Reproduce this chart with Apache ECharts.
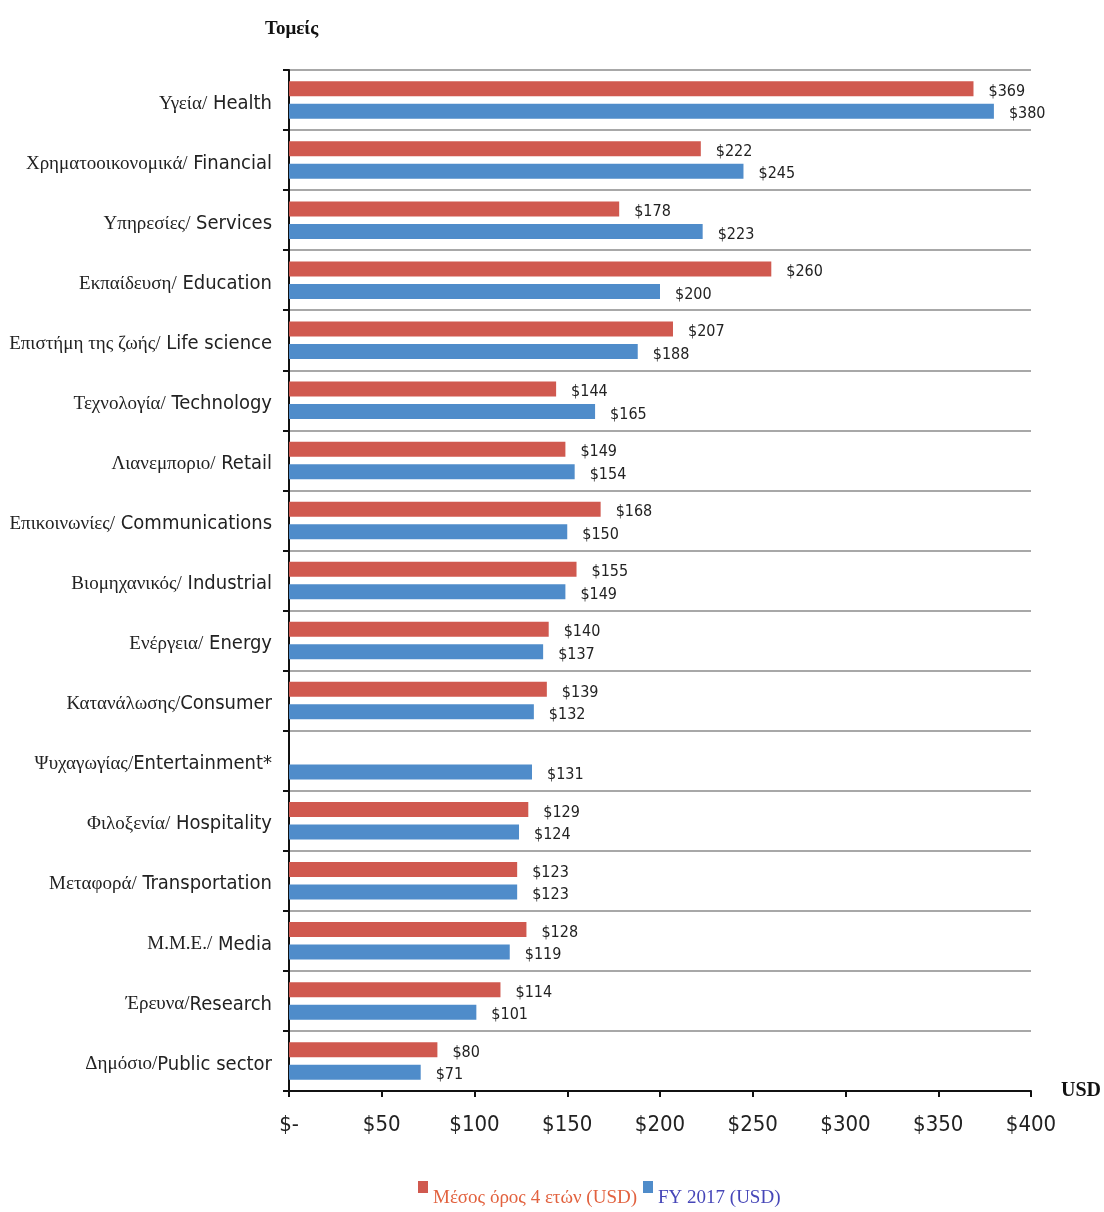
<!DOCTYPE html>
<html>
<head>
<meta charset="utf-8">
<script src="https://cdn.jsdelivr.net/npm/echarts@6/dist/echarts.min.js"></script>
<style>
  html, body { margin: 0; padding: 0; background: #ffffff; }
  #chart { width: 1104px; height: 1212px; }
</style>
</head>
<body>
<div id="chart"></div>
<script>
// Sectors (Greek / English)
const categories = [
  'Υγεία/ Health',
  'Χρηματοοικονομικά/ Financial',
  'Υπηρεσίες/ Services',
  'Εκπαίδευση/ Education',
  'Επιστήμη της ζωής/ Life science',
  'Τεχνολογία/ Technology',
  'Λιανεμποριο/ Retail',
  'Επικοινωνίες/ Communications',
  'Βιομηχανικός/ Industrial',
  'Ενέργεια/ Energy',
  'Κατανάλωσης/Consumer',
  'Ψυχαγωγίας/Entertainment*',
  'Φιλοξενία/ Hospitality',
  'Μεταφορά/ Transportation',
  'Μ.Μ.Ε./ Media',
  'Έρευνα/Research',
  'Δημόσιο/Public sector'
];

// Four-year average (USD); no value for Entertainment
const avg4Years = [369, 222, 178, 260, 207, 144, 149, 168, 155, 140, 139, null, 129, 123, 128, 114, 80];

// FY 2017 (USD)
const fy2017 = [380, 245, 223, 200, 188, 165, 154, 150, 149, 137, 132, 131, 124, 123, 119, 101, 71];

const seriesNames = ['Μέσος όρος 4 ετών (USD)', 'FY 2017 (USD)'];

const xTicks = { min: 0, max: 400, step: 50 };

const NARROW = '"Liberation Sans Narrow", "Arial Narrow", "DejaVu Sans Condensed", "Liberation Sans", sans-serif';
const SERIF = '"Liberation Serif", "Times New Roman", "DejaVu Serif", serif';

const RED = '#d0594f';
const BLUE = '#4f8cca';

const chart = echarts.init(document.getElementById('chart'), null, { renderer: 'canvas' });

const valueLabel = {
  show: true,
  position: 'right',
  distance: 15,
  offset: [0, 3],
  fontFamily: NARROW,
  fontSize: 16,
  color: '#222222',
  formatter: p => (p.value == null || p.value === '-') ? '' : '$' + p.value
};

chart.setOption({
  animation: false,
  backgroundColor: '#ffffff',
  title: {
    text: 'Τομείς',
    left: 260,
    top: 15,
    textStyle: { fontFamily: SERIF, fontSize: 19, fontWeight: 'bold', color: '#111111' }
  },
  legend: {
    left: 413,
    top: 1176,
    itemWidth: 10,
    itemHeight: 12,
    itemGap: 6,
    icon: 'rect',
    selectedMode: false,
    formatter: name => '{t|' + name + '}',
    textStyle: {
      fontFamily: SERIF,
      fontSize: 19,
      rich: { t: { fontFamily: SERIF, fontSize: 19, padding: [22, 0, 0, 0] } }
    },
    data: [
      { name: seriesNames[0], textStyle: { color: '#e2623f' } },
      { name: seriesNames[1], textStyle: { color: '#4646b8' } }
    ]
  },
  grid: {
    left: 289, right: 73, top: 70, bottom: 121,
    containLabel: false,
    outerBoundsMode: 'none'
  },
  xAxis: {
    type: 'value',
    min: xTicks.min,
    max: xTicks.max,
    interval: xTicks.step,
    name: 'USD',
    nameLocation: 'end',
    nameGap: 30,
    nameTextStyle: {
      fontFamily: SERIF, fontSize: 20, fontWeight: 'bold', color: '#111111',
      verticalAlign: 'middle', padding: [0, 0, 10, 0]
    },
    axisLine: { show: true, lineStyle: { color: '#111111', width: 2 } },
    axisTick: { show: true, length: 6, lineStyle: { color: '#111111', width: 2 } },
    splitLine: { show: false },
    axisLabel: {
      margin: 23,
      fontFamily: NARROW,
      fontSize: 22,
      color: '#222222',
      formatter: v => v === 0 ? '$-' : '$' + v
    }
  },
  yAxis: {
    type: 'category',
    inverse: true,
    data: categories,
    axisLine: { show: true, lineStyle: { color: '#111111', width: 2 } },
    axisTick: { show: true, length: 6, lineStyle: { color: '#111111', width: 2 } },
    splitLine: { show: true, lineStyle: { color: '#a8a8a8', width: 2 } },
    axisLabel: {
      margin: 17,
      padding: [7, 0, 0, 0],
      formatter: value => {
        const i = value.indexOf('/');
        return '{g|' + value.slice(0, i + 1) + '}{e|' + value.slice(i + 1) + '}';
      },
      rich: {
        g: { fontFamily: SERIF, fontSize: 19, color: '#222222' },
        e: { fontFamily: NARROW, fontSize: 20, color: '#222222' }
      }
    }
  },
  series: [
    {
      name: seriesNames[0],
      type: 'bar',
      data: avg4Years.map(v => v == null ? '-' : v),
      barWidth: 15,
      barGap: '50%',
      itemStyle: { color: RED },
      label: valueLabel
    },
    {
      name: seriesNames[1],
      type: 'bar',
      data: fy2017,
      barWidth: 15,
      barGap: '50%',
      itemStyle: { color: BLUE },
      label: valueLabel
    }
  ]
});
</script>
</body>
</html>
